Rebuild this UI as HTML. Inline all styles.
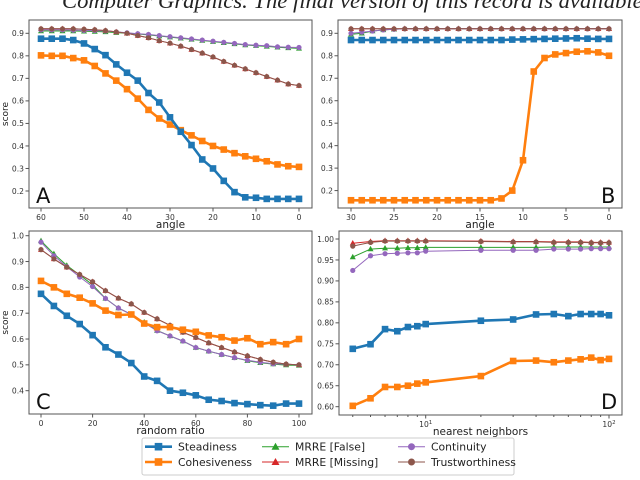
<!DOCTYPE html>
<html><head><meta charset="utf-8"><style>
body{margin:0;background:#fff;width:640px;height:476px;overflow:hidden;position:relative;font-family:"DejaVu Sans","Liberation Sans",sans-serif}
#hdr{position:absolute;left:62px;top:-12px;font-family:"Liberation Serif",serif;font-style:italic;font-size:22.6px;color:#222;white-space:nowrap}
svg text{font-family:"DejaVu Sans","Liberation Sans",sans-serif}
</style></head><body>
<div id="hdr">Computer Graphics. The final version of this record is available</div>
<svg id="s" width="640" height="476"></svg>
<script>
const aX=[60,57.5,55,52.5,50,47.5,45,42.5,40,37.5,35,32.5,30,27.5,25,22.5,20,17.5,15,12.5,10,7.5,5,2.5,0];
const aSteady=[.876,.876,.876,.87,.855,.83,.803,.762,.725,.69,.635,.593,.527,.463,.404,.34,.30,.245,.195,.172,.17,.165,.165,.165,.165];
const aCohes=[.802,.80,.80,.79,.78,.755,.722,.69,.652,.61,.56,.522,.495,.47,.447,.422,.40,.384,.368,.354,.343,.332,.318,.31,.307];
const aMrreF=[.91,.91,.91,.91,.909,.908,.906,.903,.90,.897,.893,.888,.883,.878,.873,.868,.863,.858,.853,.848,.845,.842,.838,.835,.833];
const aMrreM=[.92,.92,.92,.92,.918,.916,.912,.906,.90,.89,.88,.867,.856,.843,.828,.812,.795,.775,.758,.742,.725,.708,.692,.675,.668];
const aCont=[.915,.915,.915,.914,.913,.912,.91,.906,.902,.898,.895,.89,.885,.88,.875,.87,.865,.86,.855,.85,.847,.845,.84,.838,.837];
const aTrust=[.92,.92,.92,.92,.918,.916,.912,.906,.90,.89,.88,.867,.856,.843,.828,.812,.795,.775,.758,.742,.725,.708,.692,.675,.668];
const bX=[30,28.75,27.5,26.25,25,23.75,22.5,21.25,20,18.75,17.5,16.25,15,13.75,12.5,11.25,10,8.75,7.5,6.25,5,3.75,2.5,1.25,0];
const bSteady=[.87,.87,.87,.87,.87,.87,.87,.87,.87,.87,.87,.87,.87,.87,.87,.872,.873,.874,.875,.876,.877,.878,.876,.875,.875];
const bCohes=[.157,.157,.157,.157,.157,.157,.157,.157,.157,.157,.157,.157,.157,.157,.165,.20,.335,.73,.79,.806,.812,.818,.82,.815,.80];
const bMrreF=[.895,.90,.91,.915,.918,.92,.92,.92,.92,.92,.92,.92,.92,.92,.92,.92,.92,.92,.92,.92,.92,.92,.92,.92,.92];
const bMrreM=[.92,.92,.92,.92,.92,.92,.92,.92,.92,.92,.92,.92,.92,.92,.92,.92,.92,.92,.92,.92,.92,.92,.92,.92,.92];
const bCont=[.90,.905,.91,.915,.918,.92,.92,.92,.92,.92,.92,.92,.92,.92,.92,.92,.92,.92,.92,.92,.92,.92,.92,.92,.92];
const bTrust=[.92,.92,.92,.92,.92,.92,.92,.92,.92,.92,.92,.92,.92,.92,.92,.92,.92,.92,.92,.92,.92,.92,.92,.92,.92];
const cX=[0,5,10,15,20,25,30,35,40,45,50,55,60,65,70,75,80,85,90,95,100];
const cSteady=[.775,.728,.69,.658,.615,.568,.54,.507,.455,.438,.40,.392,.382,.365,.36,.352,.348,.344,.342,.35,.35];
const cCohes=[.825,.80,.775,.76,.738,.71,.693,.695,.66,.646,.646,.636,.628,.614,.607,.594,.603,.58,.588,.58,.60];
const cMrreF=[.98,.93,.885,.848,.81,.757,.72,.695,.665,.633,.612,.592,.567,.553,.54,.528,.516,.508,.503,.499,.498];
const cMrreM=[.946,.91,.878,.85,.822,.787,.758,.736,.703,.678,.653,.626,.606,.585,.567,.55,.535,.521,.51,.503,.5];
const cCont=[.975,.922,.88,.84,.803,.757,.72,.695,.662,.632,.612,.592,.567,.553,.54,.528,.518,.51,.504,.502,.5];
const cTrust=[.946,.91,.878,.85,.822,.787,.758,.736,.703,.678,.653,.626,.606,.585,.567,.55,.535,.521,.51,.503,.5];
const dX=[4,5,6,7,8,9,10,20,30,40,50,60,70,80,90,100];
const dSteady=[.738,.749,.785,.78,.79,.792,.797,.805,.808,.82,.821,.816,.821,.821,.821,.818];
const dCohes=[.602,.62,.647,.647,.65,.655,.658,.673,.709,.71,.706,.71,.713,.717,.711,.714];
const dMrreF=[.957,.976,.978,.978,.979,.979,.98,.98,.98,.98,.981,.981,.981,.981,.981,.981];
const dMrreM=[.99,.994,.996,.996,.996,.996,.996,.995,.994,.994,.993,.993,.993,.992,.992,.992];
const dCont=[.925,.96,.965,.966,.967,.967,.971,.973,.973,.973,.976,.976,.976,.977,.977,.977];
const dTrust=[.983,.992,.995,.995,.995,.995,.995,.994,.993,.993,.992,.992,.992,.991,.991,.991];
const aYT=[.2,.3,.4,.5,.6,.7,.8,.9], aXT=[60,50,40,30,20,10,0];
const bXT=[30,25,20,15,10,5,0];
const cYT=[.4,.5,.6,.7,.8,.9,1.0], cXT=[0,20,40,60,80,100];
const dYT=[.60,.65,.70,.75,.80,.85,.90,.95,1.00];

const NS='http://www.w3.org/2000/svg', S=document.getElementById('s');
function el(t,a,p){const e=document.createElementNS(NS,t);for(const k in a)e.setAttribute(k,a[k]);(p||S).appendChild(e);return e;}
const COL={st:'#1f77b4',co:'#ff7f0e',mf:'#2ca02c',mm:'#d62728',cn:'#9467bd',tr:'#8c564b'};
function marker(g,kind,x,y,c){
  let m;
  if(kind==='sq'){m=el('rect',{x:x-3.3,y:y-3.3,width:6.6,height:6.6,fill:c},g);}
  else if(kind==='tri'){m=el('polygon',{points:`${x},${y-3.2} ${x-3},${y+2.2} ${x+3},${y+2.2}`,fill:c},g);}
  else {m=el('circle',{cx:x,cy:y,r:2.6,fill:c},g);}
  
  
}
function panel(P){
  const g=el('g',{});
  
  
  const sx=P.sx, sy=P.sy;
  el('rect',{x:P.x0,y:P.y0,width:P.x1-P.x0,height:P.y1-P.y0,fill:'#fff',stroke:'#555','stroke-width':1},g);
  P.yt.forEach(v=>{const y=sy(v);el('line',{x1:P.x0-3.5,x2:P.x0,y1:y,y2:y,stroke:'#555'},g);
    const t=el('text',{x:P.x0-5,y:y+2.8,'font-size':7.6,fill:'#333','text-anchor':'end'},g);t.textContent=P.yfmt(v);
    });
  P.xt.forEach(v=>{const x=sx(v);el('line',{x1:x,x2:x,y1:P.y1,y2:P.y1+3.5,stroke:'#555'},g);
    const t=el('text',{x:x,y:P.y1+12,'font-size':7.6,fill:'#333','text-anchor':'middle'},g);
    if(P.log){t.textContent='10';const s=el('tspan',{dy:-3,'font-size':5.5},t);s.textContent=String(Math.round(Math.log10(v)));}
    else t.textContent=v;
    });
  if(P.minor)P.minor.forEach(v=>{const x=sx(v);el('line',{x1:x,x2:x,y1:P.y1,y2:P.y1+2,stroke:'#555'},g);});
  const xl=el('text',{x:(P.x0+P.x1)/2,y:P.y1+20,'font-size':10.5,fill:'#222','text-anchor':'middle'},g);xl.textContent=P.xlabel;
  
  if(P.ylabel){const yl=el('text',{x:0,y:0,'font-size':9,fill:'#222','text-anchor':'middle',transform:`translate(8,${(P.y0+P.y1)/2}) rotate(-90)`},g);yl.textContent='score';
    }
  const series=[['mf',P.mf,'tri',1],['mm',P.mm,'tri',1],['cn',P.cn,'ci',1],['tr',P.tr,'ci',1],['co',P.co,'sq',2.6],['st',P.st,'sq',2.6]];
  series.forEach(([k,vals,mk,w])=>{
    const sg=el('g',{},g);
    
    
    const pts=vals.map((v,i)=>sx(P.xs[i]).toFixed(1)+','+sy(v).toFixed(1)).join(' ');
    el('polyline',{points:pts,fill:'none',stroke:COL[k],'stroke-width':w,'stroke-linejoin':'round'},sg);
    vals.forEach((v,i)=>marker(sg,mk,sx(P.xs[i]),sy(v),COL[k]));
  });
  const L=el('text',{x:P.lx,y:P.ly,'font-size':21,fill:'#111','font-family':'Liberation Sans'},g);L.textContent=P.id;
  
}
const f1=v=>v.toFixed(1), f2=v=>v.toFixed(2);
panel({id:'A',x0:29,x1:312,y0:20,y1:208,sx:v=>41+(60-v)*4.3,sy:v=>33.3+(0.9-v)*225.3,xs:aX,yt:aYT,xt:aXT,yfmt:f1,xlabel:'angle',ylabel:true,
  st:aSteady,co:aCohes,mf:aMrreF,mm:aMrreM,cn:aCont,tr:aTrust,lx:36,ly:203});
panel({id:'B',x0:338,x1:622,y0:20,y1:208,sx:v=>351+(30-v)*8.6,sy:v=>33.3+(0.9-v)*224.7,xs:bX,yt:aYT,xt:bXT,yfmt:f1,xlabel:'angle',ylabel:false,
  st:bSteady,co:bCohes,mf:bMrreF,mm:bMrreM,cn:bCont,tr:bTrust,lx:601,ly:203});
panel({id:'C',x0:29,x1:312,y0:231,y1:414,sx:v=>41+v*2.58,sy:v=>235.7+(1-v)*258.3,xs:cX,yt:cYT,xt:cXT,yfmt:f1,xlabel:'random ratio',ylabel:true,
  st:cSteady,co:cCohes,mf:cMrreF,mm:cMrreM,cn:cCont,tr:cTrust,lx:36,ly:409});
panel({id:'D',x0:339,x1:622,y0:231,y1:415,sx:v=>425.7+(Math.log10(v)-1)*183.3,sy:v=>239+(1-v)*419.2,xs:dX,yt:dYT,xt:[10,100],yfmt:f2,xlabel:'nearest neighbors',ylabel:false,log:true,
  minor:[4,5,6,7,8,9,20,30,40,50,60,70,80,90],
  st:dSteady,co:dCohes,mf:dMrreF,mm:dMrreM,cn:dCont,tr:dTrust,lx:601,ly:409});

// legend
const lg=el('g',{});


el('rect',{x:142,y:438,width:372,height:37,rx:2,fill:'#fff',stroke:'#ccc'},lg);
const entries=[['st','Steadiness','sq',2.6,145,446.7],['co','Cohesiveness','sq',2.6,145,462],['mf','MRRE [False]','tri',1,262,446.7],['mm','MRRE [Missing]','tri',1,262,462],['cn','Continuity','ci',1,398,446.7],['tr','Trustworthiness','ci',1,398,462]];
entries.forEach(([k,lab,mk,w,x,y])=>{
  const eg=el('g',{},lg);
  
  
  el('line',{x1:x,x2:x+27,y1:y,y2:y,stroke:COL[k],'stroke-width':w},eg);
  if(mk==='sq')el('rect',{x:x+13.5-3.8,y:y-3.8,width:7.6,height:7.6,fill:COL[k]},eg);
  else if(mk==='tri')el('polygon',{points:`${x+13.5},${y-4} ${x+9.5},${y+3} ${x+17.5},${y+3}`,fill:COL[k]},eg);
  else el('circle',{cx:x+13.5,cy:y,r:3.5,fill:COL[k]},eg);
  const t=el('text',{x:x+33,y:y+4,'font-size':10.8,fill:'#222'},eg);t.textContent=lab;
});
</script>
</body></html>
